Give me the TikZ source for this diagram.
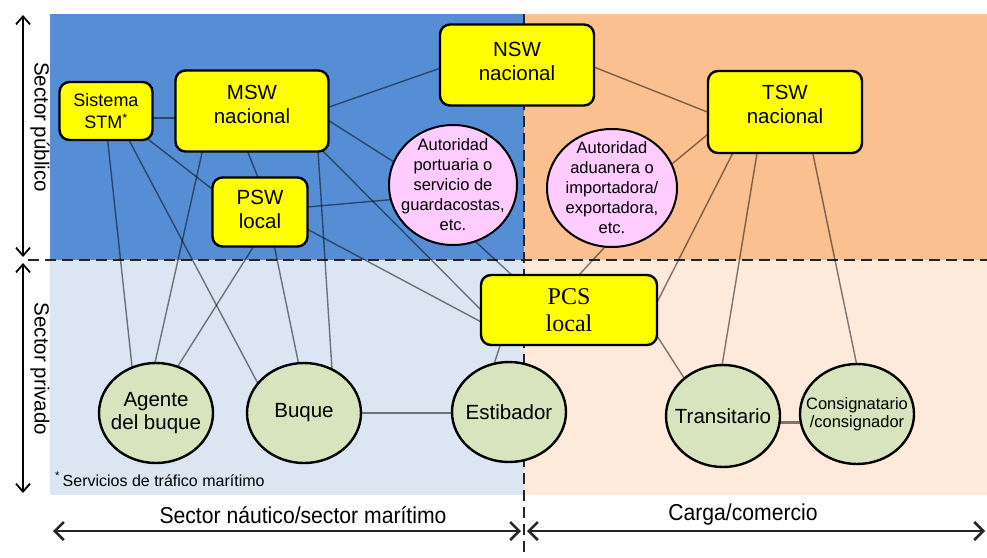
\documentclass[tikz,border=0pt]{standalone}
\usepackage{fontspec}
\setmainfont{Liberation Sans}
\newfontfamily\pcsfont{Liberation Serif}
\newfontfamily\narrowfont[FakeStretch=0.92]{Liberation Sans}
\usetikzlibrary{shapes.geometric,arrows.meta}

\definecolor{publicmar}{RGB}{85,142,213}
\definecolor{publiccargo}{RGB}{250,192,144}
\definecolor{privatemar}{RGB}{220,230,242}
\definecolor{privatecargo}{RGB}{253,234,218}
\definecolor{swyellow}{RGB}{255,255,0}
\definecolor{authpink}{RGB}{255,204,255}
\definecolor{actorgreen}{RGB}{215,228,189}

\pgfdeclarelayer{areas}
\pgfdeclarelayer{links}
\pgfsetlayers{areas,links,main}

\tikzset{
  swbox/.style={draw=black, line width=2.4pt, rounded corners=10pt, fill=swyellow,
    inner sep=0pt, align=center, font=\fontsize{20.5}{24}\selectfont},
  authority/.style={ellipse, draw=black, line width=2pt, fill=authpink, inner sep=-14pt,
    align=center, font=\fontsize{16.5}{20}\selectfont},
  actor/.style={ellipse, draw=black, line width=2.4pt, fill=actorgreen, inner sep=-14pt,
    align=center, font=\fontsize{20.5}{23}\selectfont},
  link/.style={draw=black, draw opacity=0.5, line width=1.4pt},
  divider/.style={draw=black!85, line width=2.6pt, dash pattern=on 11pt off 6pt},
  sidearrow/.style={draw=black, line width=1.8pt,
    {Straight Barb[length=8pt,width=14pt]}-{Straight Barb[length=8pt,width=14pt]}},
  basearrow/.style={draw=black!85, line width=2.6pt,
    {Straight Barb[length=9pt,width=18pt]}-{Straight Barb[length=9pt,width=18pt]}},
  sidelabel/.style={rotate=-90, font=\fontsize{20.5}{24}\selectfont},
  baselabel/.style={font=\narrowfont\fontsize{23}{26}\selectfont},
}

\begin{document}
\begin{tikzpicture}[x=1pt,y=-1pt]
\useasboundingbox (0,0) rectangle (987,557);

% quadrants: public/private sector, nautical/cargo side
\begin{pgfonlayer}{areas}
  \fill[publicmar]    (50,14)  rectangle (524,260);
  \fill[publiccargo]  (524,14) rectangle (987,260);
  \fill[privatemar]   (50,260) rectangle (524,495);
  \fill[privatecargo] (524,260) rectangle (987,495);
  \draw[divider] (28,260) -- (987,260);
  \draw[divider] (524,14) -- (524,553);
\end{pgfonlayer}

% single windows and systems
\node[swbox, minimum width=93, minimum height=58, font=\fontsize{18}{22}\selectfont]
  (stm) at (106,111) {Sistema\\STM\textsuperscript{*}};
\node[swbox, minimum width=153, minimum height=81, text depth=14pt] (msw) at (252,111) {MSW\\nacional};
\node[swbox, minimum width=154, minimum height=81, text depth=8pt] (nsw) at (517,65) {NSW\\nacional};
\node[swbox, minimum width=154, minimum height=82, text depth=16pt] (tsw) at (785,112) {TSW\\nacional};
\node[swbox, minimum width=95, minimum height=69, text depth=6pt] (psw) at (260,212) {PSW\\local};
\node[swbox, minimum width=176, minimum height=70, font=\pcsfont\fontsize{24}{27}\selectfont]
  (pcs) at (569,310) {PCS\\local};

% authorities
\node[authority, minimum width=128, minimum height=120] (port) at (453,185)
  {Autoridad\\portuaria o\\servicio de\\guardacostas,\\etc.};
\node[authority, minimum width=130, minimum height=118] (cust) at (612,188)
  {Autoridad\\aduanera o\\importadora/\\exportadora,\\etc.};

% private actors
\node[actor, minimum width=114, minimum height=100] (agente) at (156,413) {Agente\\del buque};
\node[actor, minimum width=114, minimum height=100] (buque) at (304,413) {Buque};
\node[actor, minimum width=114, minimum height=100] (estib) at (509,412) {Estibador};
\node[actor, minimum width=114, minimum height=102] (trans) at (723,416) {Transitario};
\node[actor, minimum width=114, minimum height=100, font=\fontsize{16.5}{18}\selectfont]
  (consig) at (857,414) {Consignatario\\/consignador};

% information links
\begin{pgfonlayer}{links}
  \draw[link] ([shift={(40,7)}]stm.center)    -- ([shift={(-70,7)}]msw.center);
  \draw[link] ([shift={(60,2)}]msw.center)    -- ([shift={(-62,-2)}]nsw.center);
  \draw[link] ([shift={(60,-1)}]msw.center)   -- ([shift={(-48,-16)}]port.center);
  \draw[link] ([shift={(-9,29)}]msw.center)   -- ([shift={(3,-22)}]psw.center);
  \draw[link] ([shift={(34,22)}]stm.center)   -- ([shift={(-35,-13)}]psw.center);
  \draw[link] ([shift={(0,14)}]stm.center)    -- ([shift={(-22,-28)}]agente.center);
  \draw[link] ([shift={(15,14)}]stm.center)   -- ([shift={(-40,-18)}]buque.center);
  \draw[link] ([shift={(-46,24)}]msw.center)  -- ([shift={(-6,-28)}]agente.center);
  \draw[link] ([shift={(4,18)}]psw.center)    -- ([shift={(10,-28)}]agente.center);
  \draw[link] ([shift={(11,18)}]psw.center)   -- ([shift={(-1,-28)}]buque.center);
  \draw[link] ([shift={(65,24)}]msw.center)   -- ([shift={(29,-28)}]buque.center);
  \draw[link] ([shift={(58,27)}]msw.center)   -- ([shift={(-69,19)}]pcs.center);
  \draw[link] ([shift={(30,8)}]psw.center)    -- ([shift={(-69,22)}]pcs.center);
  \draw[link] ([shift={(30,-3.5)}]psw.center) -- ([shift={(-43,13)}]port.center);
  \draw[link] ([shift={(12,47)}]port.center)  -- ([shift={(-44,-23)}]pcs.center);
  \draw[link] ([shift={(-64,20)}]pcs.center)  -- ([shift={(-20,-32)}]estib.center);
  \draw[link] ([shift={(63,-3.5)}]nsw.center) -- ([shift={(-60,7)}]tsw.center);
  \draw[link] ([shift={(-60,8)}]tsw.center)   -- ([shift={(43,-10)}]cust.center);
  \draw[link] ([shift={(-43,23)}]tsw.center)  -- ([shift={(79,10)}]pcs.center);
  \draw[link] ([shift={(-25,23)}]tsw.center)  -- ([shift={(-5,-26)}]trans.center);
  \draw[link] ([shift={(24,23)}]tsw.center)   -- ([shift={(5,-24)}]consig.center);
  \draw[link] ([shift={(4,47)}]cust.center)   -- ([shift={(-4,-20)}]pcs.center);
  \draw[link] ([shift={(81,15)}]pcs.center)   -- ([shift={(-28,-21)}]trans.center);
  \draw[link] ([shift={(40,0)}]buque.center)  -- ([shift={(-40,1)}]estib.center);
  \draw[link, line width=3pt] ([shift={(40,6)}]trans.center) -- ([shift={(-40,8)}]consig.center);
\end{pgfonlayer}

% sector axes
\coordinate (pubtop) at (23,15);
\coordinate (pubbot) at (23,257);
\coordinate (privtop) at (23,263);
\coordinate (privbot) at (23,493);
\draw[sidearrow] (pubtop) -- (pubbot);
\draw[sidearrow] (privtop) -- (privbot);
\node[sidelabel] (publabel) at (40,127) {Sector público};
\node[sidelabel] (privlabel) at (40,369) {Sector privado};

\coordinate (nautleft) at (53,531);
\coordinate (nautright) at (521,531);
\coordinate (cargoleft) at (527,531);
\coordinate (cargoright) at (985,531);
\draw[basearrow] (nautleft) -- (nautright);
\draw[basearrow] (cargoleft) -- (cargoright);
\node[baselabel] (nautlabel) at (303,515) {Sector náutico/sector marítimo};
\node[baselabel] (cargolabel) at (743,515) {Carga/comercio};

% footnote
\node[anchor=base west, inner sep=0pt, font=\fontsize{16}{19}\selectfont] (note) at (55,486)
  {\textsuperscript{*}\,Servicios de tráfico marítimo};
\end{tikzpicture}
\end{document}
